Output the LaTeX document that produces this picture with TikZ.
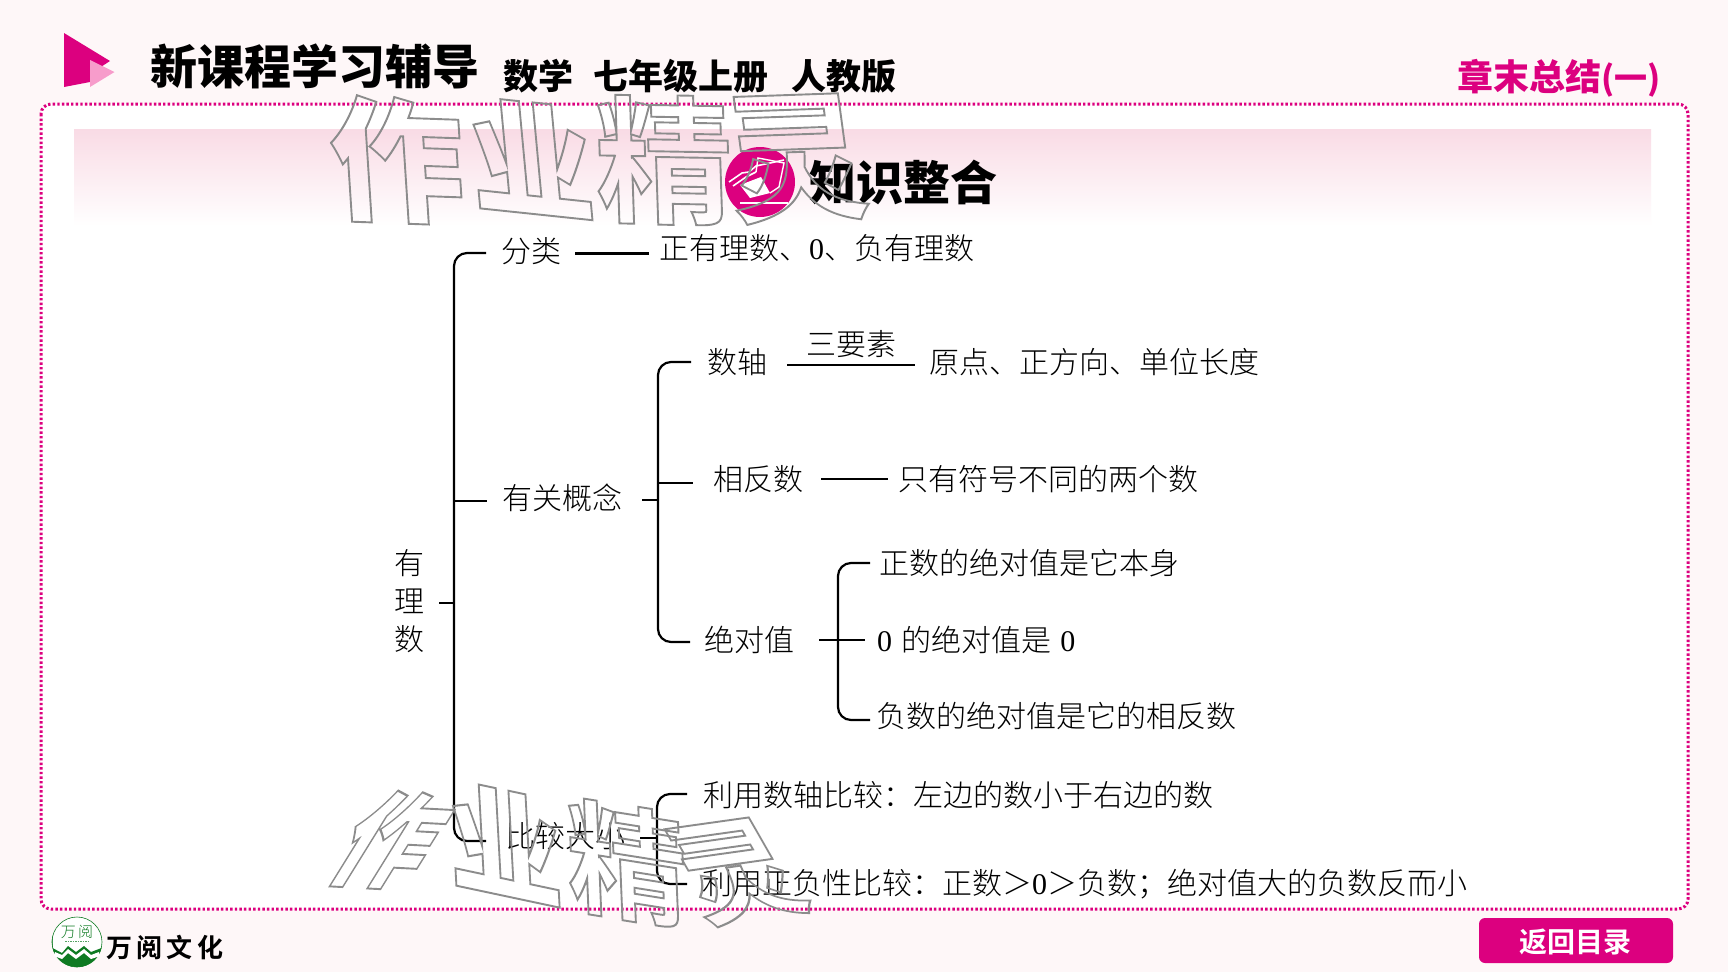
\documentclass[tikz,border=0pt]{standalone}
\usepackage{fontspec}
\setmainfont{Noto Sans CJK SC Light}[BoldFont={Noto Sans CJK SC Bold}]
\newfontfamily\heavy{Noto Sans CJK SC Black}
\newfontfamily\lat{Liberation Serif}
\usetikzlibrary{calc}
\definecolor{pagebg}{HTML}{FEF7F8}
\definecolor{mag}{HTML}{DC007F}
\definecolor{bandpink}{HTML}{F9DBE5}
\definecolor{lpink}{HTML}{F79CCB}
\definecolor{leaf}{HTML}{0E7A22}
\newcommand{\sz}[1]{\fontsize{#1}{#1}\selectfont}
\newcommand{\Z}{{\lat 0}}
\newcommand{\outl}[1]{\special{pdf:code q 1 Tr 1.9 w 0.55 0.55 0.55 RG}#1\special{pdf:code Q}}
\tikzset{
 lab/.style={inner sep=0pt,anchor=west,text height=25pt,text depth=5pt,font=\sz{30}},
 conn/.style={line width=2.2pt,black,line cap=butt},
 brk/.style={conn,rounded corners=13pt},
 wmark/.style={inner sep=0pt,font=\heavy\sz{#1},transform shape},
 wmarkb/.style={inner sep=0pt,font=\bfseries\sz{#1},transform shape},
}
\begin{document}
\begin{tikzpicture}[x=1pt,y=-1pt]
\useasboundingbox (0,0) rectangle (1728,972);
\fill[pagebg] (0,0) rectangle (1728,972);
% frame
\fill[white,rounded corners=10pt] (41,104) rectangle (1688,909);
\shade[top color=bandpink,bottom color=white] (74,129) rectangle (1651,226);
\draw[mag,line width=3pt,dash pattern=on 2.4pt off 2.2pt,rounded corners=10pt] (41,104) rectangle (1688,909);
% header mark
\fill[mag] (64,33) -- (110,61) -- (90,74) -- (90,82) -- (64,87) -- cycle;
\fill[lpink] (90,60) -- (114.5,72) -- (90,87) -- cycle;
\node[inner sep=0pt,anchor=west,text height=38pt,text depth=8pt,font=\heavy\sz{47}] (title) at (150,69) {新课程学习辅导};
\node[inner sep=0pt,anchor=west,text height=29pt,text depth=6pt,font=\heavy\sz{35}] (sub1) at (503,78) {数学};
\node[inner sep=0pt,anchor=west,text height=29pt,text depth=6pt,font=\heavy\sz{35}] (sub2) at (593,78) {七年级上册};
\node[inner sep=0pt,anchor=west,text height=29pt,text depth=6pt,font=\heavy\sz{35}] (sub3) at (791,78) {人教版};
\node[inner sep=0pt,anchor=west,text height=29pt,text depth=6pt,font=\heavy\sz{36},text=mag] (chap) at (1457,79) {章末总结{\sz{33}(一)}};
% section heading
\fill[mag] (760,182) circle (35);
\fill[white] (740,185) -- (761,177) -- (770,193) -- (750,198) -- cycle;
\draw[white,line width=1.6pt] (729,182) -- (742,173) -- (749,172) -- (756,166) -- (784,160);
\draw[white,line width=1.6pt] (733,186) -- (746,177) -- (756,172);
\draw[white,line width=1.4pt] (756,172) -- (758,158) -- (784,163) -- (779,187) -- (770,193);
\draw[white,line width=1.6pt] (740,203) -- (788,203);
\node[inner sep=0pt,anchor=west,text height=40pt,text depth=8pt,font=\heavy\sz{47}] (heading) at (809,184) {知识整合};
% tree labels
\node[lab,anchor=center,align=center,font=\sz{30}] (root) at (409,640) {有\\[8pt]理\\[8pt]数};
\node[lab] (cat) at (501,252) {分类};
\node[lab] (catdef) at (659,249) {正有理数、\Z、负有理数};
\node[lab] (concept) at (502,499) {有关概念};
\node[lab] (axis) at (707,363) {数轴};
\node[lab] (axisdef) at (929,363) {原点、正方向、单位长度};
\node[lab,anchor=center] (three) at (851,345) {三要素};
\node[lab] (opp) at (713,480) {相反数};
\node[lab] (oppdef) at (898,480) {只有符号不同的两个数};
\node[lab] (abs) at (704,641) {绝对值};
\node[lab] (abs1) at (879,564) {正数的绝对值是它本身};
\node[lab] (abs2) at (877,641) {\Z\hspace{3pt} 的绝对值是\hspace{2pt} \Z};
\node[lab] (abs3) at (876,717) {负数的绝对值是它的相反数};
\node[lab] (cmp) at (505,837) {比较大小};
\node[lab] (cmp1) at (703,796) {利用数轴比较：左边的数小于右边的数};
\node[lab] (cmp2) at (702,884) {利用正负性比较：正数＞\Z＞负数；绝对值大的负数反而小};
% junction coordinates
\coordinate (tTop) at (486,253);
\coordinate (tTopC) at (454,253);
\coordinate (tBotC) at (454,841);
\coordinate (tBot) at (486,841);
\coordinate (tMid) at (454,501);
\coordinate (tMidE) at (487,501);
\coordinate (tRoot) at (454,603);
\coordinate (tRootE) at (439,603);
\coordinate (uTop) at (691,362);
\coordinate (uTopC) at (658,362);
\coordinate (uBotC) at (658,642);
\coordinate (uBot) at (690,642);
\coordinate (uMid) at (658,483);
\coordinate (uMidE) at (693,483);
\coordinate (uIn) at (658,500);
\coordinate (uInE) at (642,500);
\coordinate (vTop) at (870,563);
\coordinate (vTopC) at (838,563);
\coordinate (vBotC) at (838,720);
\coordinate (vBot) at (870,720);
\coordinate (vIn) at (819,640);
\coordinate (vOut) at (865,640);
\coordinate (wTop) at (687,794);
\coordinate (wTopC) at (657,794);
\coordinate (wBotC) at (657,884);
\coordinate (wBot) at (687,884);
\coordinate (wIn) at (657,838);
\coordinate (wInE) at (640,838);
\coordinate (a1) at (575,253.5);
\coordinate (a2) at (649,253.5);
\coordinate (b1) at (787,365);
\coordinate (b2) at (915,365);
\coordinate (c1) at (821,479);
\coordinate (c2) at (888,479);
% connectors
\draw[brk] (tTop) -- (tTopC) -- (tBotC) -- (tBot);
\draw[conn] (tMid) -- (tMidE);
\draw[conn] (tRoot) -- (tRootE);
\draw[conn] (a1) -- (a2);
\draw[brk] (uTop) -- (uTopC) -- (uBotC) -- (uBot);
\draw[conn] (uMid) -- (uMidE);
\draw[conn] (uIn) -- (uInE);
\draw[conn] (b1) -- (b2);
\draw[conn] (c1) -- (c2);
\draw[brk] (vTop) -- (vTopC) -- (vBotC) -- (vBot);
\draw[conn] (vIn) -- (vOut);
\draw[brk] (wTop) -- (wTopC) -- (wBotC) -- (wBot);
\draw[conn] (wIn) -- (wInE);
% footer logo
\fill[white] (77,942) circle (25);
\draw[leaf,line width=.6pt] (77,942) circle (25);
\fill[leaf] (52.5,948) -- (62,953) -- (68,946) -- (76,952) -- (84,946) -- (91,952) -- (101.5,948) arc (14:194:25.2) -- cycle;
\fill[white] (54,956) -- (62,959) -- (68,953) -- (76,959) -- (84,953) -- (91,959) -- (100,956) -- (99,952) -- (91,955) -- (84,949) -- (76,955) -- (68,949) -- (62,955) -- (55,952) -- cycle;
\node[inner sep=0pt,font=\sz{15},text=leaf] (logotxt) at (77,932) {万\,阅};
\draw[leaf!70,line width=.7pt,dash pattern=on 1.5pt off 1pt] (65,941) -- (89,941);
\node[inner sep=0pt,anchor=west,font=\bfseries\sz{26}] (brand) at (106,947) {万\,阅\,文\,化};
% button
\fill[mag,rounded corners=6pt] (1479,918) rectangle (1673,963);
\node[inner sep=0pt,font=\bfseries\sz{28},text=white] (back) at (1575,942) {返回目录};
% watermarks
\node[wmark=134,rotate=-2,xslant=-.1] (wma) at (397,160) {\outl{作}};
\node[wmark=124,rotate=-6,xslant=-.2] (wmb) at (531,158) {\outl{业}};
\node[wmarkb=138,rotate=-1,xslant=-.05] (wmc) at (664,160) {\outl{精}};
\node[wmarkb=140,rotate=2,xslant=-.1] (wmd) at (796,159) {\outl{灵}};
\node[wmark=105,rotate=-3,xslant=.55,xscale=.85] (wme) at (392,840) {\outl{作}};
\node[wmark=116,rotate=-12,xslant=-.27] (wmf) at (505,843) {\outl{业}};
\node[wmarkb=122,rotate=-9,xslant=-.2] (wmg) at (627,863) {\outl{精}};
\node[wmarkb=114,rotate=8,xslant=-.4] (wmh) at (736,872) {\outl{灵}};
\end{tikzpicture}
\end{document}
